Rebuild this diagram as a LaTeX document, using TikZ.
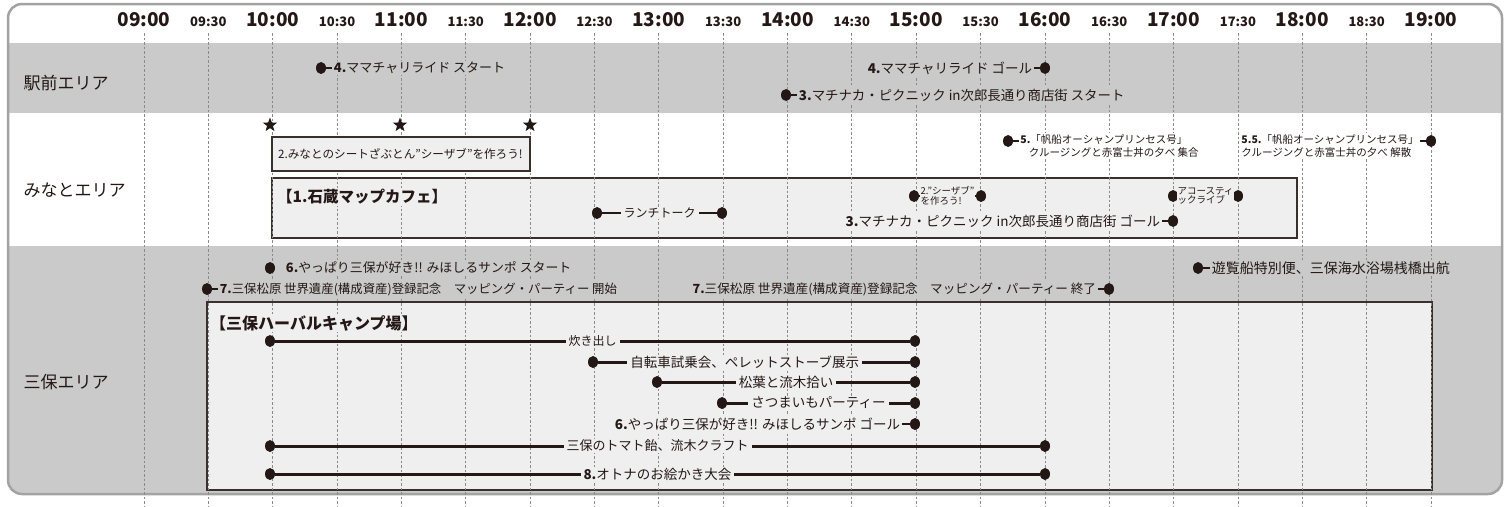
\documentclass[tikz,border=0pt]{standalone}
\usepackage{fontspec}
\setmainfont{Noto Sans CJK JP}
\usetikzlibrary{positioning,shapes.geometric}
\definecolor{ink}{HTML}{231815}
\definecolor{bandgray}{HTML}{C9CAC9}
\definecolor{boxfill}{HTML}{EFEFEF}
\definecolor{framegray}{HTML}{A3A3A3}
\definecolor{dashgray}{HTML}{8A8A8A}
\tikzset{
  dot/.style={ellipse,fill=ink,inner sep=0,minimum width=10,minimum height=12},
  starmark/.style={star,star points=5,star point ratio=2.4,fill=ink,inner sep=0,minimum size=15},
  evtext/.style={font=\fontsize{13}{15}\selectfont,text=ink,inner sep=1.5,fill=#1},
  evtext/.default=bandgray,
  smalltext/.style={font=\fontsize{10.5}{13}\selectfont,text=ink,inner sep=1,fill=#1,align=left},
  smalltext/.default=white,
  tinytext/.style={font=\fontsize{9.5}{9.5}\selectfont,text=ink,inner sep=0.5,fill=boxfill,align=left},
  bartext/.style={font=\fontsize{13.5}{15}\selectfont,text=ink,fill=boxfill,inner xsep=3,inner ysep=1},
  lead/.style={draw=ink,line width=2},
  bar/.style={draw=ink,line width=3},
  area/.style={font=\fontsize{17}{20}\selectfont,text=ink,anchor=west},
  boxtitle/.style={font=\bfseries\fontsize{15.5}{18}\selectfont,text=ink,fill=boxfill,inner sep=1,anchor=west},
  venue/.style={draw=ink!90,fill=boxfill,line width=1.5},
  grid/.style={draw=dashgray,line width=0.8,dash pattern=on 2.5 off 2},
  hour/.style={font=\bfseries\fontsize{19}{20}\selectfont,text=ink,anchor=base},
  halfhour/.style={font=\bfseries\fontsize{13}{14}\selectfont,text=ink,anchor=base}
}
\begin{document}
\begin{tikzpicture}[x=1pt,y=-1pt]
  \useasboundingbox (0,0) rectangle (1509,506);
  \fill[white] (0,0) rectangle (1509,506);

  % frame and area bands
  \begin{scope}
    \clip[rounded corners=14] (8,4) rectangle (1502,494);
    \fill[white] (8,4) rectangle (1502,494);
    \fill[bandgray] (8,43) rectangle (1502,113);
    \fill[bandgray] (8,246) rectangle (1502,494);
  \end{scope}
  \draw[framegray,line width=2.5,rounded corners=14] (8,4) rectangle (1502,494);

  % venue boxes
  \draw[venue] (272,178) rectangle (1297,238);
  \draw[venue] (207,302) rectangle (1432,490);

  % time grid
  \foreach \i in {0,...,20}{
    \pgfmathsetmacro\gx{144+64.35*\i}
    \draw[grid] (\gx,33) -- (\gx,506);
  }
  \foreach \h [count=\k from 0] in {09,10,11,12,13,14,15,16,17,18,19}
    \node[hour] (h\h) at ({144+128.7*\k},27) {\h:00};
  \foreach \h [count=\k from 0] in {09,10,11,12,13,14,15,16,17,18}
    \node[halfhour] (m\h) at ({208.35+128.7*\k},27) {\h:30};
  \draw[venue] (272,137) rectangle (530,171);

  % area labels
  \node[area] (ekimae) at (20,83) {駅前エリア};
  \node[area] (minato) at (20,190) {みなとエリア};
  \node[area] (miho) at (20,382) {三保エリア};

  % ekimae area
  \node[dot] (mamaS) at (321,68) {};
  \node[evtext,right=6pt of mamaS] (mamaSt) {{\bfseries 4.}ママチャリライド スタート};
  \draw[lead] (mamaS) -- (mamaSt);
  \node[dot] (mamaG) at (1045,68) {};
  \node[evtext,font=\fontsize{13.5}{15}\selectfont,left=6pt of mamaG] (mamaGt) {{\bfseries 4.}ママチャリライド ゴール};
  \draw[lead] (mamaG) -- (mamaGt);
  \node[dot] (picS) at (786,95) {};
  \node[evtext,font=\fontsize{13.4}{15}\selectfont,right=6pt of picS] (picSt) {{\bfseries 3.}マチナカ・ピクニック in次郎長通り商店街 スタート};
  \draw[lead] (picS) -- (picSt);

  % minato area
  \node[starmark] (star1) at (270,125) {};
  \node[starmark] (star2) at (400,125) {};
  \node[starmark] (star3) at (530,125) {};
  \node[font=\fontsize{11.6}{14}\selectfont,text=ink,anchor=west,inner sep=0] (zabu) at (278,154) {2.みなとのシートざぶとん”シーザブ”を作ろう!};
  \node[boxtitle] (cafe) at (276,197) {【1.石蔵マップカフェ】};
  \node[dot] (lunchA) at (597,213) {};
  \node[dot] (lunchB) at (722,213) {};
  \draw[bar,line width=2.5] (lunchA) -- (lunchB) node[midway,bartext,font=\fontsize{12}{14}\selectfont] (lunch) {ランチトーク};
  \node[dot] (zabuA) at (914,196) {};
  \node[dot] (zabuB) at (981,196) {};
  \draw[bar,line width=2] (zabuA) -- (zabuB) node[midway,tinytext] (zabut) {2.”シーザブ”\\を作ろう!};
  \node[dot] (liveA) at (1173,196) {};
  \node[dot] (liveB) at (1238,196) {};
  \draw[bar,line width=2] (liveA) -- (liveB) node[midway,tinytext] (live) {アコースティ\\ックライブ};
  \node[dot] (picG) at (1173,221) {};
  \node[evtext=boxfill,font=\fontsize{13.5}{15}\selectfont,left=6pt of picG] (picGt) {{\bfseries 3.}マチナカ・ピクニック in次郎長通り商店街 ゴール};
  \draw[lead] (picG) -- (picGt);
  \node[dot] (shipS) at (1008,141) {};
  \node[smalltext,anchor=north west] (shipSt) at ([xshift=6pt,yshift=8pt]shipS.east) {{\bfseries 5.}「帆船オーシャンプリンセス号」\\\hspace*{0.8em}クルージングと赤富士丼の夕べ 集合};
  \draw[lead] (shipS) -- (shipS -| shipSt.west);
  \node[dot] (shipG) at (1431,141) {};
  \node[smalltext,anchor=north east] (shipGt) at ([xshift=-6pt,yshift=8pt]shipG.west) {{\bfseries 5.5.}「帆船オーシャンプリンセス号」\\クルージングと赤富士丼の夕べ 解散};
  \draw[lead] (shipG) -- (shipG -| shipGt.east);

  % miho area
  \node[dot] (walkS) at (270,268) {};
  \node[evtext,font=\fontsize{12.9}{14}\selectfont,right=9pt of walkS] (walkSt) {{\bfseries 6.}やっぱり三保が好き!! みほしるサンポ スタート};
  \node[dot] (mapS) at (207,289) {};
  \node[evtext,font=\fontsize{12.4}{14}\selectfont,right=6pt of mapS] (mapSt) {{\bfseries 7.}三保松原 世界遺産(構成資産)登録記念　マッピング・パーティー 開始};
  \draw[lead] (mapS) -- (mapSt);
  \node[dot] (mapG) at (1109,289) {};
  \node[evtext,font=\fontsize{12.6}{14}\selectfont,left=6pt of mapG] (mapGt) {{\bfseries 7.}三保松原 世界遺産(構成資産)登録記念　マッピング・パーティー 終了};
  \draw[lead] (mapG) -- (mapGt);
  \node[dot] (boat) at (1198,268) {};
  \node[evtext,font=\fontsize{14}{16}\selectfont,right=7pt of boat] (boatt) {遊覧船特別便、三保海水浴場桟橋出航};
  \draw[lead] (boat) -- (boatt);
  \node[boxtitle,font=\bfseries\fontsize{16}{18}\selectfont] (camp) at (209,323) {【三保ハーバルキャンプ場】};

  \node[dot] (takiA) at (270,341) {};
  \node[dot] (takiB) at (915,341) {};
  \draw[bar] (takiA) -- (takiB) node[midway,bartext,font=\fontsize{12}{14}\selectfont] (taki) {炊き出し};
  \node[dot] (bikeA) at (593,362) {};
  \node[dot] (bikeB) at (915,362) {};
  \draw[bar] (bikeA) -- (bikeB) node[pos=0.47,bartext] (bike) {自転車試乗会、ペレットストーブ展示};
  \node[dot] (pineA) at (657,382) {};
  \node[dot] (pineB) at (915,382) {};
  \draw[bar] (pineA) -- (pineB) node[midway,bartext] (pine) {松葉と流木拾い};
  \node[dot] (imoA) at (722,403) {};
  \node[dot] (imoB) at (915,403) {};
  \draw[bar] (imoA) -- (imoB) node[midway,bartext] (imo) {さつまいもパーティー};
  \node[dot] (walkG) at (915,424) {};
  \node[evtext=boxfill,font=\fontsize{13.5}{15}\selectfont,left=8pt of walkG] (walkGt) {{\bfseries 6.}やっぱり三保が好き!! みほしるサンポ ゴール};
  \draw[lead] (walkG) -- (walkGt);
  \node[dot] (candyA) at (270,446) {};
  \node[dot] (candyB) at (1045,446) {};
  \draw[bar] (candyA) -- (candyB) node[midway,bartext,font=\fontsize{13}{15}\selectfont] (candy) {三保のトマト飴、流木クラフト};
  \node[dot] (drawA) at (270,474) {};
  \node[dot] (drawB) at (1045,474) {};
  \draw[bar] (drawA) -- (drawB) node[midway,bartext] (drawing) {{\bfseries 8.}オトナのお絵かき大会};
\end{tikzpicture}
\end{document}
